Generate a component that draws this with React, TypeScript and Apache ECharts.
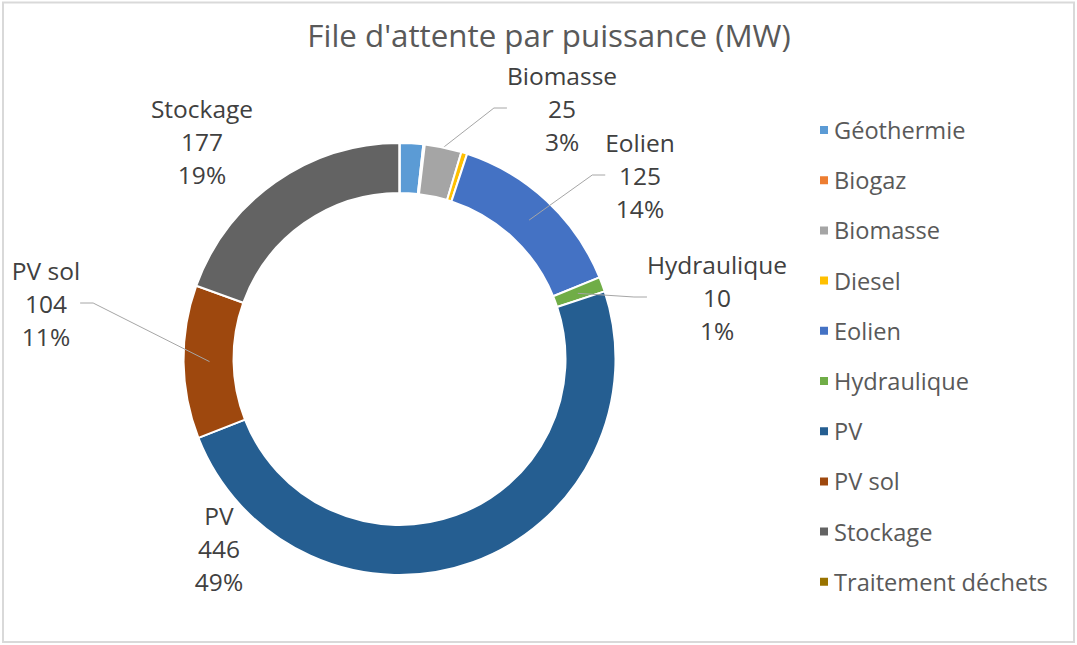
import React, { useEffect, useRef } from 'react';
import * as echarts from 'echarts';

const categories = ['Géothermie', 'Biogaz', 'Biomasse', 'Diesel', 'Eolien', 'Hydraulique', 'PV', 'PV sol', 'Stockage', 'Traitement déchets'];
const values = [16, 1, 25, 4, 125, 10, 446, 104, 177, 0];
const colors = ['#5B9BD5', '#ED7D31', '#A5A5A5', '#FFC000', '#4472C4', '#70AD47', '#255E91', '#9E480E', '#636363', '#997300'];
const titleText = "File d'attente par puissance (MW)";

// which categories carry a data label, and how their leader line is drawn
const labelsFromRingEdge = ['Biomasse'];
const labelsFromMidRing = ['Eolien', 'Hydraulique', 'PV', 'PV sol', 'Stockage'];
const labelsWithoutLine = ['PV', 'Stockage'];

// layout: label block centres (px)
const labelSpots: Record<string, [number, number]> = {
  Biomasse: [562, 108],
  Eolien: [640, 175],
  Hydraulique: [717, 297],
  PV: [219, 548],
  'PV sol': [46, 303],
  Stockage: [202, 141],
};

const FONT = "'Open Sans', sans-serif";

export default function App() {
  const ref = useRef<HTMLDivElement>(null);

  useEffect(() => {
    if (!ref.current) return;
    const chart = echarts.init(ref.current, undefined, { renderer: 'svg' });

    const labelStyle = {
      fontFamily: FONT,
      fontSize: 24.5,
      lineHeight: 33,
      color: '#404040',
      formatter: (p: any) => `${p.name}\n${p.value}\n${Math.round(p.percent)}%`,
    };
    const lineStyle = { color: '#A6A6A6', width: 1 };

    const layoutFn = (p: any) => {
      const pos = labelSpots[categories[p.dataIndex]];
      if (!pos) return {};
      return { x: pos[0], y: pos[1], align: 'center', verticalAlign: 'middle' };
    };

    const mainData = categories.map((name, i) => ({
      name,
      value: values[i],
      itemStyle: { color: colors[i] },
      label: { show: labelsFromRingEdge.includes(name) },
      labelLine: { show: labelsFromRingEdge.includes(name) },
    }));

    const helperData = categories.map((name, i) => ({
      name,
      value: values[i],
      label: { show: labelsFromMidRing.includes(name) },
      labelLine: { show: labelsFromMidRing.includes(name) && !labelsWithoutLine.includes(name) },
    }));

    chart.setOption({
      animation: false,
      backgroundColor: '#ffffff',
      color: colors,
      graphic: [
        {
          type: 'rect',
          shape: { x: 3, y: 2.5, width: 1071, height: 639.5 },
          style: { fill: 'none', stroke: '#D9D9D9', lineWidth: 2 },
          silent: true,
        },
        {
          type: 'text',
          x: 549,
          y: 35,
          style: {
            text: titleText,
            fontFamily: FONT,
            fontSize: 31.3,
            fill: '#595959',
            textAlign: 'center',
            textVerticalAlign: 'middle',
          },
          silent: true,
        },
      ],
      legend: {
        orient: 'vertical',
        left: 813,
        top: 110,
        data: categories,
        icon: 'rect',
        itemWidth: 10,
        itemHeight: 10,
        itemGap: 20.2,
        itemTextGap: 11,
        selectedMode: false,
        textStyle: { fontFamily: FONT, fontSize: 23.6, lineHeight: 30, color: '#595959' },
      },
      series: [
        {
          type: 'pie',
          name: 'main',
          center: [399.5, 359],
          radius: [166, 216],
          startAngle: 90,
          clockwise: true,
          avoidLabelOverlap: false,
          emphasis: { disabled: true },
          itemStyle: { borderColor: '#ffffff', borderWidth: 2 },
          label: { ...labelStyle, position: 'outside' },
          labelLine: { length: 20, length2: 13, lineStyle },
          labelLayout: layoutFn,
          data: mainData,
          z: 2,
        },
        {
          type: 'pie',
          name: 'guides',
          center: [399.5, 359],
          radius: [0, 190],
          startAngle: 90,
          clockwise: true,
          silent: true,
          avoidLabelOverlap: false,
          emphasis: { disabled: true },
          itemStyle: { color: 'rgba(0,0,0,0)', borderWidth: 0 },
          label: { ...labelStyle, position: 'outside' },
          labelLine: { length: 20, length2: 13, lineStyle },
          labelLayout: layoutFn,
          data: helperData,
          z: 3,
        },
      ],
    });

    return () => chart.dispose();
  }, []);

  return (
    <div
      ref={ref}
      style={{ position: 'fixed', left: 0, top: 0, width: 1077, height: 645, background: '#fff' }}
    />
  );
}
